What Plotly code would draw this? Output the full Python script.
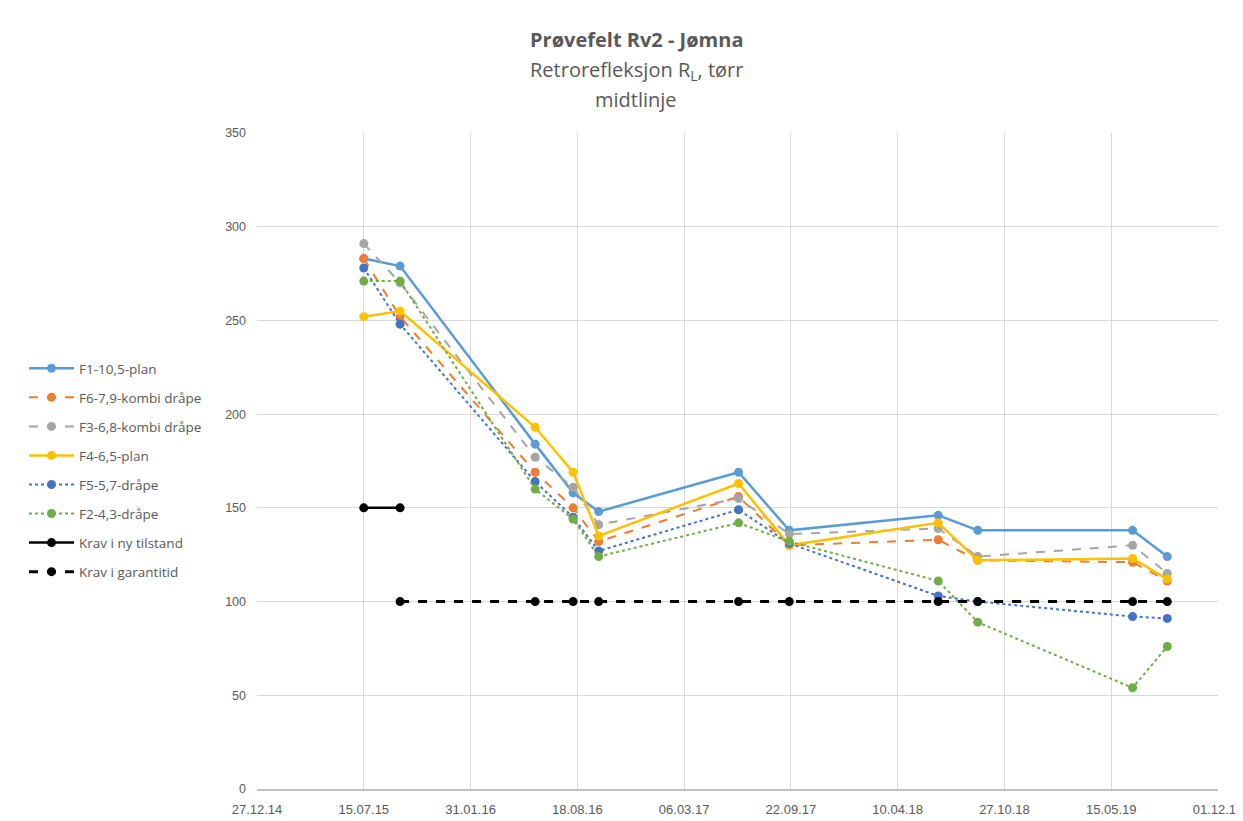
import plotly.graph_objects as go

dates = ["2015-07-15", "2015-09-21", "2016-05-31", "2016-08-10", "2016-09-27",
         "2017-06-16", "2017-09-19", "2018-06-25", "2018-09-07", "2019-06-24", "2019-08-28"]

f1 = [283, 279, 184, 158, 148, 169, 138, 146, 138, 138, 124]
f6 = [283, 252, 169, 150, 132, 156, 130, 133, 122, 121, 111]
f3 = [291, 270, 177, 161, 141, 155, 136, 139, 124, 130, 115]
f4 = [252, 255, 193, 169, 135, 163, 130, 142, 122, 123, 112]
f5 = [278, 248, 164, 145, 127, 149, 131, 103, 100, 92, 91]
f2 = [271, 271, 160, 144, 124, 142, 132, 111, 89, 54, 76]

krav_ny_dates = ["2015-07-15", "2015-09-21"]
krav_ny = [150, 150]
krav_gar_dates = dates[1:]
krav_gar = [100] * len(krav_gar_dates)

tick_dates = ["2014-12-27", "2015-07-15", "2016-01-31", "2016-08-18", "2017-03-06",
              "2017-09-22", "2018-04-10", "2018-10-27", "2019-05-15", "2019-12-01"]
tick_labels = ["27.12.14", "15.07.15", "31.01.16", "18.08.16", "06.03.17",
               "22.09.17", "10.04.18", "27.10.18", "15.05.19", "01.12.19"]

series = [
    ("F1-10,5-plan", dates, f1, "#5B9BD5", "solid", 2.5),
    ("F6-7,9-kombi dråpe", dates, f6, "#ED7D31", "dash", 2),
    ("F3-6,8-kombi dråpe", dates, f3, "#A5A5A5", "dash", 2),
    ("F4-6,5-plan", dates, f4, "#FFC000", "solid", 2.5),
    ("F5-5,7-dråpe", dates, f5, "#4472C4", "dot", 2),
    ("F2-4,3-dråpe", dates, f2, "#70AD47", "dot", 2),
    ("Krav i ny tilstand", krav_ny_dates, krav_ny, "#000000", "solid", 2.5),
    ("Krav i garantitid", krav_gar_dates, krav_gar, "#000000", "dash", 3),
]

fig = go.Figure()
for i, (name, xs, ys, color, dash, w) in enumerate(series):
    fig.add_trace(go.Scatter(
        x=xs, y=ys, name=name, mode="lines+markers",
        line=dict(color=color, dash=dash, width=w),
        marker=dict(color=color, size=9, symbol="circle"),
        legendgroup=f"g{i}",
    ))

grey = "#595959"
# page body has an 8px margin, so the figure is drawn 8px smaller and offset
W, H = 1235, 813
L, R, T, B = 249, 25, 125, 32
ph = H - T - B
pw = W - L - R
tx = (628 - L) / pw
fig.update_layout(
    width=W, height=H, autosize=False,
    paper_bgcolor="white", plot_bgcolor="white",
    margin=dict(l=L, r=R, t=T, b=B, autoexpand=False),
    font=dict(family="Open Sans, Liberation Sans, sans-serif", size=12, color=grey),
    showlegend=True,
    legend=dict(x=(16 - L) / pw, xanchor="left", y=1 - (345 - T) / ph, yanchor="top",
                tracegroupgap=8.5, itemwidth=45, font=dict(size=13.5, color=grey),
                bgcolor="rgba(0,0,0,0)"),
    annotations=[
        dict(text="<b>Prøvefelt Rv2 - Jømna</b>", xref="paper", yref="paper",
             x=tx, y=1 + (T - 32) / ph, showarrow=False,
             font=dict(size=20, color=grey), xanchor="center", yanchor="middle"),
        dict(text="Retrorefleksjon R<sub>L</sub>, tørr", xref="paper", yref="paper",
             x=tx, y=1 + (T - 62) / ph, showarrow=False,
             font=dict(size=20, color=grey), xanchor="center", yanchor="middle"),
        dict(text="midtlinje", xref="paper", yref="paper",
             x=tx, y=1 + (T - 91) / ph, showarrow=False,
             font=dict(size=20, color=grey), xanchor="center", yanchor="middle"),
    ],
)
fig.update_xaxes(
    type="date", range=["2014-12-27", "2019-12-01"],
    tickvals=tick_dates, ticktext=tick_labels,
    showgrid=True, gridcolor="#D9D9D9", gridwidth=1,
    showline=True, linecolor="#BFBFBF", linewidth=2,
    ticks="", ticklabelstandoff=7, ticklabeloverflow="allow", automargin=False,
    tickfont=dict(family="Liberation Sans Narrow, Arial Narrow, sans-serif", size=13, color=grey),
    zeroline=False,
)
fig.update_yaxes(
    range=[0, 350], tick0=0, dtick=50,
    showgrid=True, gridcolor="#D9D9D9", gridwidth=1,
    showline=False, ticks="", zeroline=False, automargin=False,
    ticklabelstandoff=10,
    tickfont=dict(family="Liberation Sans, Arial, sans-serif", size=12.5, color=grey),
)

fig.write_html("out.html")
